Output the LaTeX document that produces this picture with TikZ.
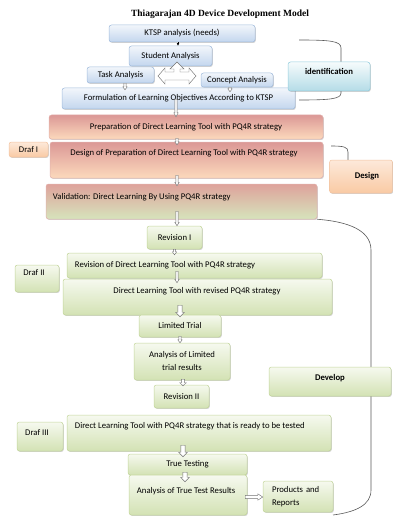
\documentclass[tikz,border=0pt]{standalone}
\usepackage{fontspec}
\setmainfont{Carlito}
\newfontfamily\titlefont{Liberation Serif}
\usetikzlibrary{shadows,arrows.meta,calc}
\definecolor{bTop}{HTML}{F2F6FB}
\definecolor{bBot}{HTML}{C3D6EE}
\definecolor{bLine}{HTML}{A2BCDD}
\definecolor{iTop}{HTML}{F6FBFC}
\definecolor{iBot}{HTML}{B4DCE7}
\definecolor{iLine}{HTML}{93CDDD}
\definecolor{rTop}{HTML}{DB9896}
\definecolor{rBot}{HTML}{FCD9BC}
\definecolor{rLine}{HTML}{E3B3AE}
\definecolor{pTop}{HTML}{FDE9DA}
\definecolor{pBot}{HTML}{F9CAA4}
\definecolor{pLine}{HTML}{F2C3A0}
\definecolor{gTop}{HTML}{F6F9EF}
\definecolor{gBot}{HTML}{D3E2B4}
\definecolor{gLine}{HTML}{C3D69B}
\definecolor{vTop}{HTML}{DEA29B}
\definecolor{vBot}{HTML}{D6E4BC}
\definecolor{brk}{HTML}{595959}
\newcommand\varrow[4]{%
  \draw[harrow] let \p1=#1, \p2=#2 in
   (\x1-#3,\y1) -- (\x1-#3,\y2+#4) -- (\x1-2*#3,\y2+#4) -- (\x1,\y2)
   -- (\x1+2*#3,\y2+#4) -- (\x1+#3,\y2+#4) -- (\x1+#3,\y1) -- cycle;}
\newcommand\hzarrow[4]{%
  \draw[harrow] let \p1=#1, \p2=#2 in
   (\x1,\y1-#3) -- (\x2-#4,\y1-#3) -- (\x2-#4,\y1-2*#3) -- (\x2,\y1)
   -- (\x2-#4,\y1+2*#3) -- (\x2-#4,\y1+#3) -- (\x1,\y1+#3) -- cycle;}
\newcommand\txt{\fontsize{8.7}{13}\selectfont}
\begin{document}
\begin{tikzpicture}[x=1pt,y=-1pt,
  font=\txt,
  box/.style={rounded corners=2.5pt, draw, line width=0.5pt, inner sep=0pt,
    drop shadow={shadow xshift=0.8pt, shadow yshift=-0.9pt, opacity=0.3, fill=black!60}},
  bluebox/.style={box, draw=bLine, top color=bTop, bottom color=bBot},
  identbox/.style={box, draw=iLine, top color=iTop, bottom color=iBot},
  redbox/.style={box, draw=rLine, top color=rTop, bottom color=rBot},
  peachbox/.style={box, draw=pLine, top color=pTop, bottom color=pBot},
  greenbox/.style={box, draw=gLine, top color=gTop, bottom color=gBot},
  valbox/.style={box, draw=rLine, top color=vTop, bottom color=vBot},
  every label/.style={inner sep=0pt},
  harrow/.style={draw=black!55, fill=white, line width=0.45pt, line join=miter},
  bracket/.style={draw=brk, line width=0.6pt}]
\useasboundingbox (0,0) rectangle (393,516);

\node[font=\titlefont\bfseries\fontsize{9.5}{11}\selectfont] (title) at (220,14) {Thiagarajan 4D Device Development Model};

% identification brace
\draw[bracket] (299,40) .. controls (330,40) and (341,41) .. (341,48) -- (341,93)
  .. controls (341,99) and (330,100) .. (299,100);
% design brace
\draw[bracket] (331,146) .. controls (344,146) and (348,147) .. (348,152) -- (348,186)
  .. controls (348,190) and (344,190) .. (332,190);

\node[bluebox, minimum width=146pt, minimum height=17pt] (ktsp) at (182,33.5) {KTSP analysis (needs)};
\node[bluebox, minimum width=83pt, minimum height=20pt] (student) at (170.5,56) {Student Analysis};
\node[bluebox, minimum width=67pt, minimum height=16pt] (task) at (120.5,75) {Task Analysis};
\node[bluebox, minimum width=72pt, minimum height=14pt] (concept) at (237,80) {Concept Analysis};
\node[bluebox, minimum width=233pt, minimum height=21pt] (formulation) at (178.5,98.5) {Formulation of Learning Objectives According to KTSP};
\node[identbox, minimum width=82pt, minimum height=29pt,
  label={[anchor=center,yshift=-10pt,font=\txt\bfseries]north:identification}] (ident) at (329,76.5) {};

% cross arrow
\draw[harrow] (158,76) -- (165,68) -- (165,72) -- (174,72) -- (174,69) -- (170,69) -- (177,62)
  -- (184,69) -- (180,69) -- (180,72) -- (189,72) -- (189,68) -- (196,76) -- (189,84)
  -- (189,80) -- (165,80) -- (165,84) -- cycle;

\draw[line width=0.5pt, -{Latex[length=2.6pt,width=2.6pt]}] ($(ktsp.south)+(-4,0)$) -- ($(student.north)+(7.5,0)$);
\varrow{($(task.south)+(4.5,0)$)}{($(formulation.north)+(0,2)$)}{1.1pt}{3pt}
\varrow{($(concept.south)+(-7,0)$)}{($(formulation.north)+(0,4)$)}{1.1pt}{3pt}

\node[redbox, minimum width=274pt, minimum height=24pt] (prep) at (186,127) {Preparation of Direct Learning Tool with PQ4R strategy};
\varrow{($(formulation.south)+(-2.5,-10)$)}{($(prep.north)+(0,2)$)}{1.1pt}{4pt}
\node[redbox, minimum width=273pt, minimum height=36pt,
  label={[anchor=center,yshift=-11pt,xshift=-2.5pt]north:Design of Preparation of Direct Learning Tool with PQ4R strategy}] (design) at (186.5,160) {};
\varrow{($(prep.south)+(-9,-1)$)}{($(design.north)+(0,3)$)}{1.1pt}{3pt}
\node[peachbox, minimum width=39pt, minimum height=15pt] (draf1) at (28.5,149.5) {Draf I};
\node[peachbox, minimum width=63pt, minimum height=33pt, font=\txt\bfseries] (designlbl) at (361,176.5) {\hspace*{12pt}Design};

\node[valbox, minimum width=271pt, minimum height=35pt,
  label={[anchor=west,xshift=7pt,yshift=-13pt]north west:Validation: Direct Learning By Using PQ4R strategy}] (valid) at (181.5,201.5) {};
\varrow{($(design.south)+(-9.5,-3)$)}{($(valid.north)+(0,2)$)}{1.1pt}{3.5pt}

% develop bracket
\draw[bracket] (valid.south east) .. controls (340,221) and (371,227) .. (371,250) -- (371,490)
  .. controls (371,505) and (356,512) .. (333,515);

\node[greenbox, minimum width=55pt, minimum height=23pt] (rev1) at (174.5,237.5) {Revision I};
\varrow{($(valid.south)+(-4.5,-8)$)}{(rev1.north)}{1.1pt}{3.5pt}
\node[greenbox, minimum width=255pt, minimum height=25pt,
  label={[anchor=west,xshift=8pt,yshift=-12pt]north west:Revision of Direct Learning Tool with PQ4R strategy}] (revof) at (194.5,265.5) {};
\varrow{(rev1.south)}{($(revof.north)+(0,2)$)}{1.1pt}{3pt}
\node[greenbox, minimum width=44pt, minimum height=27pt,
  label={[anchor=center,yshift=-8pt,xshift=-3pt]north:Draf II}] (draf2) at (37,278.5) {};
\node[greenbox, minimum width=269pt, minimum height=36pt,
  label={[anchor=center,yshift=-12pt,xshift=-0.5pt]north:Direct Learning Tool with revised PQ4R strategy}] (revised) at (197.5,297) {};
\varrow{($(revof.south)+(-17.5,-7)$)}{($(revised.north)+(0,4)$)}{1.1pt}{3.5pt}
\node[greenbox, minimum width=82pt, minimum height=22pt] (limited) at (180,326) {Limited Trial};
\varrow{($(revised.south)+(-17.5,-10)$)}{($(limited.north)+(0,2)$)}{2.2pt}{4.5pt}
\node[greenbox, minimum width=96pt, minimum height=37pt, align=center] (anlim) at (182,361.5) {Analysis of Limited\\trial results};
\varrow{($(limited.south)+(0,-1)$)}{(anlim.north)}{1.1pt}{3pt}
\node[greenbox, minimum width=122pt, minimum height=29pt,
  label={[anchor=center,yshift=-11pt,font=\txt\bfseries]north:Develop}] (develop) at (330,381.5) {};
\node[greenbox, minimum width=55pt, minimum height=23pt] (rev2) at (181.5,396.5) {Revision II};
\varrow{($(anlim.south)+(1,-1)$)}{($(rev2.north)+(0,1)$)}{1.6pt}{3pt}
\node[greenbox, minimum width=264pt, minimum height=36pt,
  label={[anchor=west,xshift=8pt,yshift=-11pt]north west:Direct Learning Tool with PQ4R strategy that is ready to be tested}] (ready) at (199,433) {};
\node[greenbox, minimum width=46pt, minimum height=29pt,
  label={[anchor=center,yshift=-11pt,xshift=-3pt]north:Draf III}] (draf3) at (40,436.5) {};
\node[greenbox, minimum width=119pt, minimum height=21pt] (truetest) at (187.5,464.5) {True Testing};
\varrow{($(ready.south)+(-16,-6)$)}{($(truetest.north)+(0,3)$)}{2.2pt}{4.5pt}
\node[greenbox, minimum width=118pt, minimum height=40pt,
  label={[anchor=west,xshift=8pt,yshift=-16pt]north west:Analysis of True Test Results}] (antrue) at (188,495) {};
\varrow{($(truetest.south)+(-2.5,-3)$)}{($(antrue.north)+(0,7)$)}{2.2pt}{4.5pt}
\node[greenbox, minimum width=70pt, minimum height=31pt, text width=52pt, align=left] (products) at (298,496.5) {Products and\\Reports};
\hzarrow{($(antrue.east)+(-2,2)$)}{(products.west)}{1.6pt}{5pt}
\end{tikzpicture}
\end{document}
